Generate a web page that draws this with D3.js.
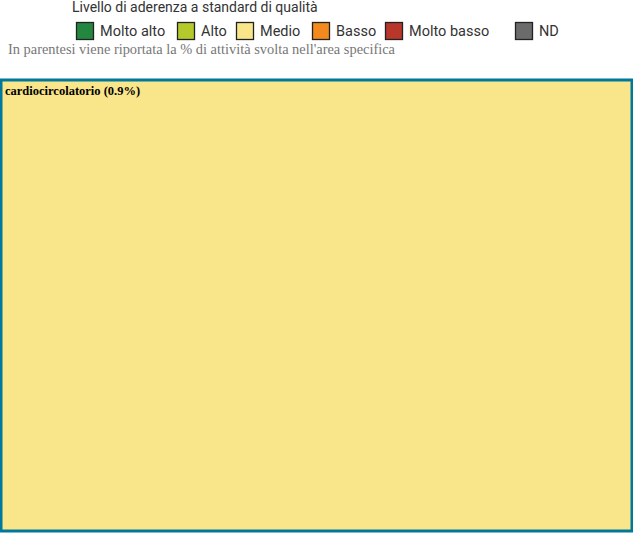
<!DOCTYPE html>
<html><head><meta charset="utf-8">
<script src="https://cdn.jsdelivr.net/npm/d3@7"></script>
<style>body{margin:0;background:#fff;}svg{display:block;}</style>
</head><body>
<svg id="c" width="633" height="550"></svg>
<script>
const legendLabels = ["Molto alto","Alto","Medio","Basso","Molto basso","ND"];
const legendColors = ["#23873f","#b5c92b","#f9e58a","#f28a1e","#b9362a","#6b6b6b"];
const legendX = [76,177,236,312,385,515];
const areas = ["cardiocircolatorio"];
const shares = [0.9];
const levels = ["Medio"];

const svg = d3.select("#c");
svg.append("text").attr("x",72).attr("y",12).attr("font-family","Roboto").attr("font-size",14)
  .attr("fill","#333").text("Livello di aderenza a standard di qualità");

const color = d3.scaleOrdinal().domain(legendLabels).range(legendColors);
const lg = svg.append("g");
legendLabels.forEach((l,i)=>{
  lg.append("rect").attr("x",legendX[i]+0.5).attr("y",22.5).attr("width",17).attr("height",17)
    .attr("fill",color(l)).attr("stroke","#222").attr("stroke-width",1.3);
  lg.append("text").attr("x",legendX[i]+24).attr("y",36).attr("font-family","Roboto")
    .attr("font-size",14.5).attr("fill","#333").text(l);
});
svg.append("text").attr("x",8).attr("y",54).attr("font-family","Liberation Serif")
  .attr("font-size",14.4).attr("fill","#777")
  .text("In parentesi viene riportata la % di attività svolta nell'area specifica");

const root = d3.hierarchy({children: areas.map((a,i)=>({name:a,value:shares[i],level:levels[i]}))})
  .sum(d=>d.value||0);
d3.treemap().size([631,451]).paddingInner(0)(root);
const g = svg.append("g").attr("transform","translate(1,80)");
const leaf = g.selectAll("g").data(root.leaves()).join("g");
leaf.append("rect").attr("x",d=>d.x0).attr("y",d=>d.y0)
  .attr("width",d=>d.x1-d.x0).attr("height",d=>d.y1-d.y0)
  .attr("fill",d=>color(d.data.level)).attr("stroke","#00789b").attr("stroke-width",3);
leaf.append("text").attr("x",d=>d.x0+4).attr("y",d=>d.y0+15)
  .attr("font-family","Liberation Serif").attr("font-weight","bold").attr("font-size",12.5)
  .attr("fill","#000").text(d=>`${d.data.name} (${d.data.value}%)`);
</script>
</body></html>
